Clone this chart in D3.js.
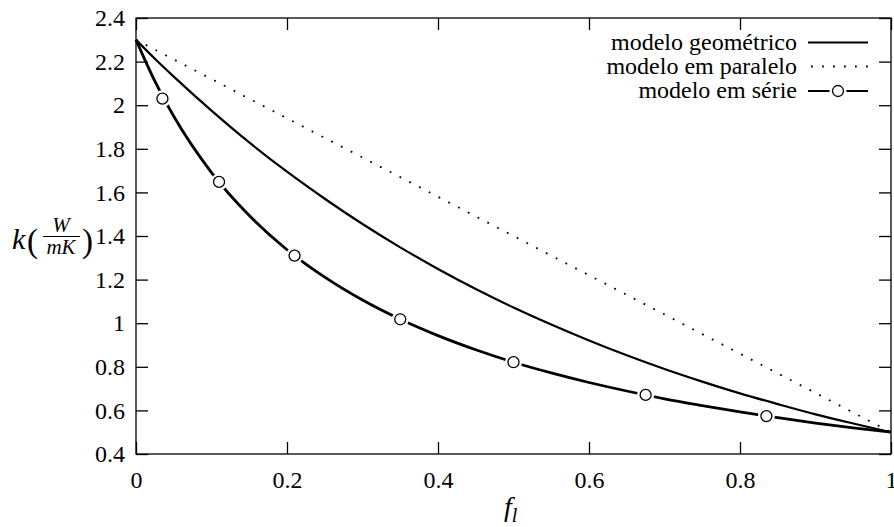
<!DOCTYPE html>
<html>
<head>
<meta charset="utf-8">
<script src="https://cdn.jsdelivr.net/npm/d3@7"></script>
<style>
  body { margin: 0; background: #fff; }
  svg { display: block; }
</style>
</head>
<body>
<svg width="894" height="527"></svg>
<script>
// values
const fl = [0, 0.025, 0.05, 0.1, 0.15, 0.2, 0.25, 0.3, 0.35, 0.4, 0.45, 0.5,
            0.55, 0.6, 0.65, 0.7, 0.75, 0.8, 0.85, 0.9, 0.95, 1];
const geometrico = [2.3, 2.213, 2.131, 1.975, 1.829, 1.695, 1.571, 1.455, 1.348, 1.249, 1.157, 1.072,
                    0.994, 0.921, 0.853, 0.79, 0.732, 0.678, 0.629, 0.582, 0.54, 0.5];
const serie = [2.3, 2.11, 1.949, 1.691, 1.494, 1.337, 1.211, 1.106, 1.018, 0.943, 0.878, 0.821,
               0.772, 0.728, 0.689, 0.653, 0.622, 0.593, 0.567, 0.542, 0.52, 0.5];
const paraleloF = [0, 1];
const paralelo = [2.3, 0.5];
const serieMarkF = [0.035, 0.11, 0.21, 0.35, 0.5, 0.675, 0.835];
const serieMarkK = [2.03, 1.648, 1.31, 1.018, 0.821, 0.671, 0.574];

const xTicks = [0, 0.2, 0.4, 0.6, 0.8, 1];
const xTickLabels = ["0", "0.2", "0.4", "0.6", "0.8", "1"];
const yTicks = [0.4, 0.6, 0.8, 1, 1.2, 1.4, 1.6, 1.8, 2, 2.2, 2.4];
const yTickLabels = ["0.4", "0.6", "0.8", "1", "1.2", "1.4", "1.6", "1.8", "2", "2.2", "2.4"];
const legendNames = ["modelo geométrico", "modelo em paralelo", "modelo em série"];

const FONT = 'Liberation Serif';
const svg = d3.select('svg');
const plotLeft = 136, plotRight = 891, plotTop = 18, plotBottom = 454;

const x = d3.scaleLinear().domain([0, 1]).range([plotLeft, plotRight]);
const y = d3.scaleLinear().domain([0.4, 2.4]).range([plotBottom, plotTop]);

// axes, ticks pointing inwards on all four sides
const gx = svg.append('g').attr('transform', 'translate(0,' + plotBottom + ')')
  .call(d3.axisBottom(x).tickValues(xTicks).tickSize(-12).tickPadding(17)
    .tickFormat((d, i) => xTickLabels[i]));
const gxt = svg.append('g').attr('transform', 'translate(0,' + plotTop + ')')
  .call(d3.axisTop(x).tickValues(xTicks).tickSize(-12).tickFormat(''));
const gy = svg.append('g').attr('transform', 'translate(' + plotLeft + ',0)')
  .call(d3.axisLeft(y).tickValues(yTicks).tickSize(-12).tickPadding(11)
    .tickFormat((d, i) => yTickLabels[i]));
const gyr = svg.append('g').attr('transform', 'translate(' + plotRight + ',0)')
  .call(d3.axisRight(y).tickValues(yTicks).tickSize(-12).tickFormat(''));
[gx, gxt, gy, gyr].forEach(g => {
  g.select('.domain').remove();
  g.selectAll('.tick line').attr('stroke', '#000').attr('stroke-width', 1.3);
  g.selectAll('.tick text').attr('fill', '#000')
    .attr('font-family', FONT).attr('font-size', 24);
});

svg.append('rect')
  .attr('x', plotLeft).attr('y', plotTop)
  .attr('width', plotRight - plotLeft).attr('height', plotBottom - plotTop)
  .attr('fill', 'none').attr('stroke', '#000').attr('stroke-width', 1.3);

const line = d3.line().x(d => x(d[0])).y(d => y(d[1])).curve(d3.curveMonotoneX);

// modelo em paralelo (dotted)
svg.append('path')
  .attr('d', line(paraleloF.map((f, i) => [f, paralelo[i]])))
  .attr('fill', 'none').attr('stroke', '#000')
  .attr('stroke-width', 1.8).attr('stroke-dasharray', '1.8,9.2');

// modelo geometrico
svg.append('path')
  .attr('d', line(fl.map((f, i) => [f, geometrico[i]])))
  .attr('fill', 'none').attr('stroke', '#000').attr('stroke-width', 2.2);

// modelo em serie
svg.append('path')
  .attr('d', line(fl.map((f, i) => [f, serie[i]])))
  .attr('fill', 'none').attr('stroke', '#000').attr('stroke-width', 2.8);

const marks = serieMarkF.map((f, i) => [f, serieMarkK[i]]);
svg.selectAll('.gap').data(marks).enter().append('circle')
  .attr('cx', d => x(d[0])).attr('cy', d => y(d[1]))
  .attr('r', 8.5).attr('fill', '#fff');
svg.selectAll('.mark').data(marks).enter().append('circle')
  .attr('cx', d => x(d[0])).attr('cy', d => y(d[1]))
  .attr('r', 5.5).attr('fill', '#fff').attr('stroke', '#000').attr('stroke-width', 1.3);

// legend
const legendY = [42.5, 66.5, 91];
legendNames.forEach((name, i) => {
  svg.append('text')
    .attr('x', 797).attr('y', legendY[i]).attr('dy', '0.3em')
    .attr('text-anchor', 'end')
    .attr('font-family', FONT).attr('font-size', 24)
    .text(name);
});
svg.append('line')
  .attr('x1', 808).attr('x2', 868).attr('y1', legendY[0]).attr('y2', legendY[0])
  .attr('stroke', '#000').attr('stroke-width', 2);
svg.append('line')
  .attr('x1', 811).attr('x2', 868).attr('y1', legendY[1]).attr('y2', legendY[1])
  .attr('stroke', '#000').attr('stroke-width', 1.8).attr('stroke-dasharray', '1.8,9.2');
svg.append('line')
  .attr('x1', 808).attr('x2', 868).attr('y1', legendY[2]).attr('y2', legendY[2])
  .attr('stroke', '#000').attr('stroke-width', 2);
svg.append('circle')
  .attr('cx', 838).attr('cy', legendY[2]).attr('r', 8.5).attr('fill', '#fff');
svg.append('circle')
  .attr('cx', 838).attr('cy', legendY[2]).attr('r', 5.5)
  .attr('fill', '#fff').attr('stroke', '#000').attr('stroke-width', 1.3);

// axis titles
const xl = svg.append('text').attr('x', 504).attr('y', 516)
  .attr('font-family', FONT).attr('font-size', 28).attr('font-style', 'italic');
xl.append('tspan').attr('font-family', FONT).text('f');
xl.append('tspan').attr('font-family', FONT).attr('font-size', 20).attr('dy', 6).text('l');

const yl = svg.append('g');
yl.append('text').attr('x', 12).attr('y', 249).attr('font-size', 30)
  .attr('font-family', FONT).attr('font-style', 'italic').text('k');
yl.append('text').attr('x', 27).attr('y', 252).attr('font-size', 33)
  .attr('font-family', FONT).text('(');
yl.append('text').attr('x', 61).attr('y', 232).attr('font-size', 21)
  .attr('font-family', FONT).attr('font-style', 'italic')
  .attr('text-anchor', 'middle').text('W');
yl.append('line').attr('x1', 43).attr('x2', 80).attr('y1', 236.5).attr('y2', 236.5)
  .attr('stroke', '#000').attr('stroke-width', 1.2);
yl.append('text').attr('x', 61).attr('y', 254).attr('font-size', 21)
  .attr('font-family', FONT).attr('font-style', 'italic')
  .attr('text-anchor', 'middle').text('mK');
yl.append('text').attr('x', 82).attr('y', 252).attr('font-size', 33)
  .attr('font-family', FONT).text(')');
</script>
</body>
</html>
